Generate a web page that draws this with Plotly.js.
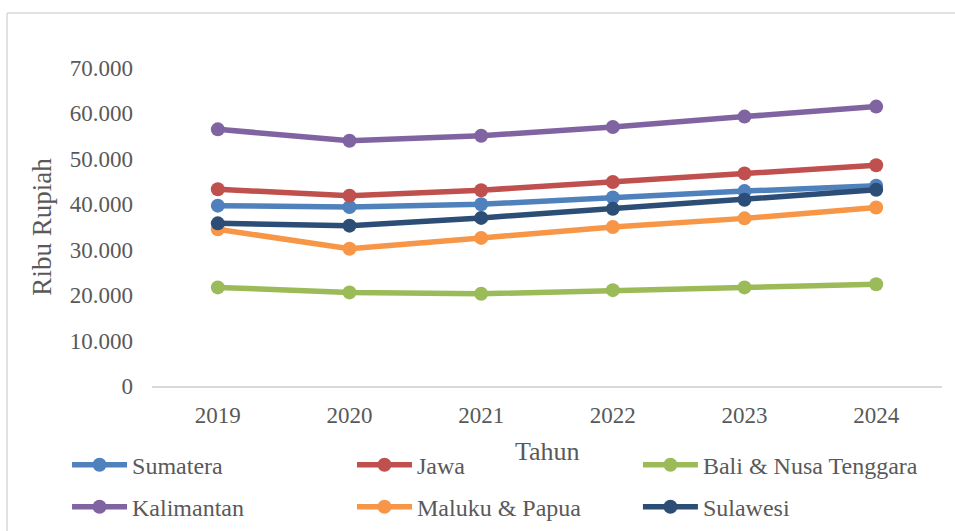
<!DOCTYPE html>
<html>
<head>
<meta charset="utf-8">
<script src="https://cdn.plot.ly/plotly-3.0.1.min.js"></script>
<style>
  html, body { margin: 0; padding: 0; background: #fff; }
  #chart { width: 955px; height: 531px; }
</style>
</head>
<body>
<div id="chart"></div>
<script>
const years = ["2019", "2020", "2021", "2022", "2023", "2024"];
const sumatera   = [39700, 39400, 40000, 41500, 42900, 44100];
const jawa       = [43300, 41900, 43100, 44900, 46800, 48600];
const bali       = [21700, 20600, 20300, 21100, 21700, 22400];
const kalimantan = [56500, 54000, 55100, 57000, 59300, 61500];
const maluku     = [34500, 30200, 32600, 35000, 36900, 39300];
const sulawesi   = [35800, 35300, 37000, 39000, 41000, 43200];

const seriesNames = ["Sumatera", "Jawa", "Bali & Nusa Tenggara", "Kalimantan", "Maluku & Papua", "Sulawesi"];
const seriesData = [sumatera, jawa, bali, kalimantan, maluku, sulawesi];
const seriesColors = ["#4F81BD", "#C0504D", "#9BBB59", "#8064A2", "#F79646", "#2C4D75"];
const xTitle = "Tahun";
const yTitle = "Ribu Rupiah";

const font = "Liberation Serif";
const grey = "#595959";

const legendIds = ["legend", "legend2", "legend3", "legend4", "legend5", "legend6"];
const legendX = [0.0702, 0.3686, 0.668, 0.0702, 0.3686, 0.668];
const legendY = [0.124, 0.124, 0.124, 0.045, 0.045, 0.045];

const traces = seriesNames.map((n, i) => ({
  type: "scatter",
  mode: "lines+markers",
  name: n,
  x: years,
  y: seriesData[i],
  line: { color: seriesColors[i], width: 5.5 },
  marker: { color: seriesColors[i], size: 14 },
  legend: legendIds[i]
}));

const layout = {
  width: 955,
  height: 531,
  margin: { l: 152, r: 13, t: 68, b: 145 },
  paper_bgcolor: "#fff",
  plot_bgcolor: "#fff",
  separators: ",.",
  showlegend: true,
  font: { family: font, color: grey, size: 23 },
  xaxis: {
    type: "category",
    range: [-0.5, 5.5],
    automargin: false,
    showgrid: false,
    showline: true,
    linecolor: "#d9d9d9",
    linewidth: 1.5,
    ticks: "",
    zeroline: false,
    tickfont: { family: font, size: 23, color: grey },
    ticklabelstandoff: 8
  },
  yaxis: {
    range: [0, 70000],
    dtick: 10000,
    tickformat: ",d",
    automargin: false,
    showgrid: false,
    showline: false,
    zeroline: false,
    ticks: "",
    tickfont: { family: font, size: 23, color: grey },
    ticklabelstandoff: 18,
    title: { text: yTitle, font: { family: font, size: 27, color: grey }, standoff: 10 }
  },
  annotations: [
    { text: xTitle, xref: "paper", yref: "paper", x: 0.5, y: -0.2075,
      xanchor: "center", yanchor: "middle", showarrow: false,
      font: { family: font, size: 26, color: grey } }
  ],
  shapes: [
    { type: "line", xref: "paper", yref: "paper", x0: -0.1835, x1: 1.1, y0: 1.173, y1: 1.173,
      line: { color: "#d9d9d9", width: 1.5 } },
    { type: "line", xref: "paper", yref: "paper", x0: -0.1835, x1: -0.1835, y0: 1.173, y1: -0.6,
      line: { color: "#d9d9d9", width: 1.5 } }
  ]
};

legendIds.forEach((id, i) => {
  layout[id] = {
    orientation: "h",
    font: { family: font, size: 24, color: grey },
    itemwidth: 55,
    xref: "container",
    yref: "container",
    x: legendX[i],
    y: legendY[i],
    xanchor: "left",
    yanchor: "middle",
    bgcolor: "rgba(0,0,0,0)"
  };
});

Plotly.newPlot("chart", traces, layout, { displayModeBar: false, staticPlot: true });
</script>
</body>
</html>
